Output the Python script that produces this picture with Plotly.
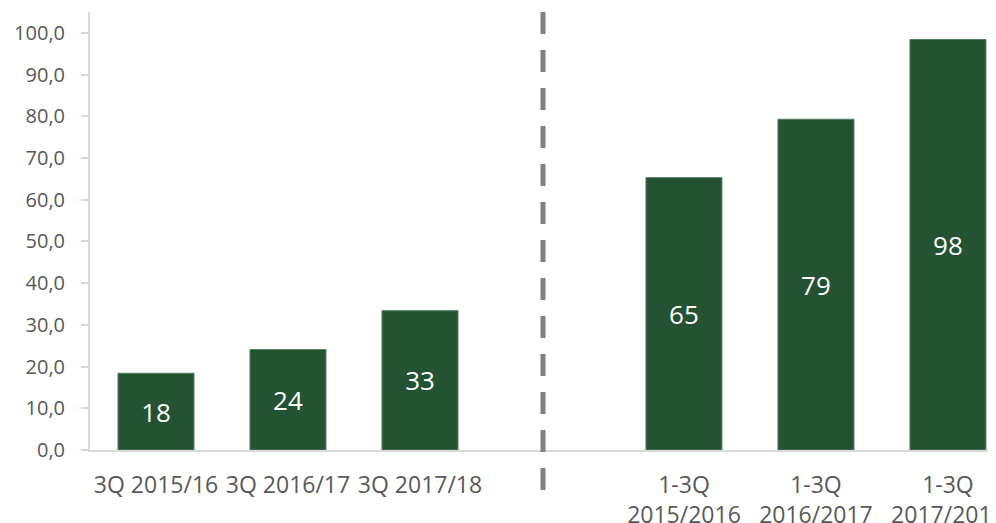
import plotly.graph_objects as go

categories = ["3Q 2015/16", "3Q 2016/17", "3Q 2017/18", " ",
              "1-3Q<br>2015/2016", "1-3Q<br>2016/2017", "1-3Q<br>2017/2018"]
values = [18.4, 24.1, 33.4, None, 65.3, 79.3, 98.4]
labels = ["18", "24", "33", "", "65", "79", "98"]
y_ticks = [0, 10, 20, 30, 40, 50, 60, 70, 80, 90, 100]

BAR = "#245334"
GREY_TXT = "#595959"
AXIS = "#d9d9d9"
Y_RANGE = [0, 105]

fig = go.Figure()
fig.add_trace(go.Bar(
    x=categories, y=values, text=labels,
    textposition="inside", insidetextanchor="middle",
    textfont=dict(family="Open Sans", size=26, color="white"),
    marker=dict(color=BAR, line=dict(color="#5a8068", width=1)),
    hoverinfo="skip", cliponaxis=False,
))
# invisible trace on overlay axis so its tick marks render
fig.add_trace(go.Scatter(x=[categories[0]], y=[None], yaxis="y2",
                         mode="markers", showlegend=False, hoverinfo="skip"))

fig.add_shape(type="line", xref="x", yref="paper",
              x0=2.932, x1=2.932, y0=1, y1=-0.096,
              line=dict(color="#808080", width=5, dash="22px,16px"))

fig.update_layout(
    width=988, height=515,
    margin=dict(l=82, r=0, t=4, b=73, autoexpand=False),
    paper_bgcolor="white", plot_bgcolor="white",
    bargap=0.424, showlegend=False,
    separators=",.",
    font=dict(family="Open Sans", color=GREY_TXT),
    uniformtext=dict(mode="show", minsize=10),
    xaxis=dict(
        type="category", categoryorder="array", categoryarray=categories,
        range=[-0.5, 6.364], automargin=False,
        showline=True, linecolor=AXIS, linewidth=2,
        ticks="", showgrid=False, zeroline=False,
        tickfont=dict(family="Open Sans", size=23, color=GREY_TXT),
        ticklabelstandoff=13,
    ),
    yaxis=dict(
        range=Y_RANGE, tickvals=y_ticks, tickformat=".1f", automargin=False,
        showline=True, linecolor=AXIS, linewidth=2,
        ticks="outside", ticklen=19, tickcolor="rgba(0,0,0,0)",
        showgrid=False, zeroline=False,
        tickfont=dict(family="Open Sans", size=20, color=GREY_TXT),
    ),
    yaxis2=dict(
        range=Y_RANGE, tickvals=y_ticks, overlaying="y", side="left",
        showticklabels=False, automargin=False,
        showline=False, ticks="outside", ticklen=8, tickcolor=AXIS, tickwidth=1.5,
        showgrid=False, zeroline=False,
    ),
)

fig.write_html("out.html")
